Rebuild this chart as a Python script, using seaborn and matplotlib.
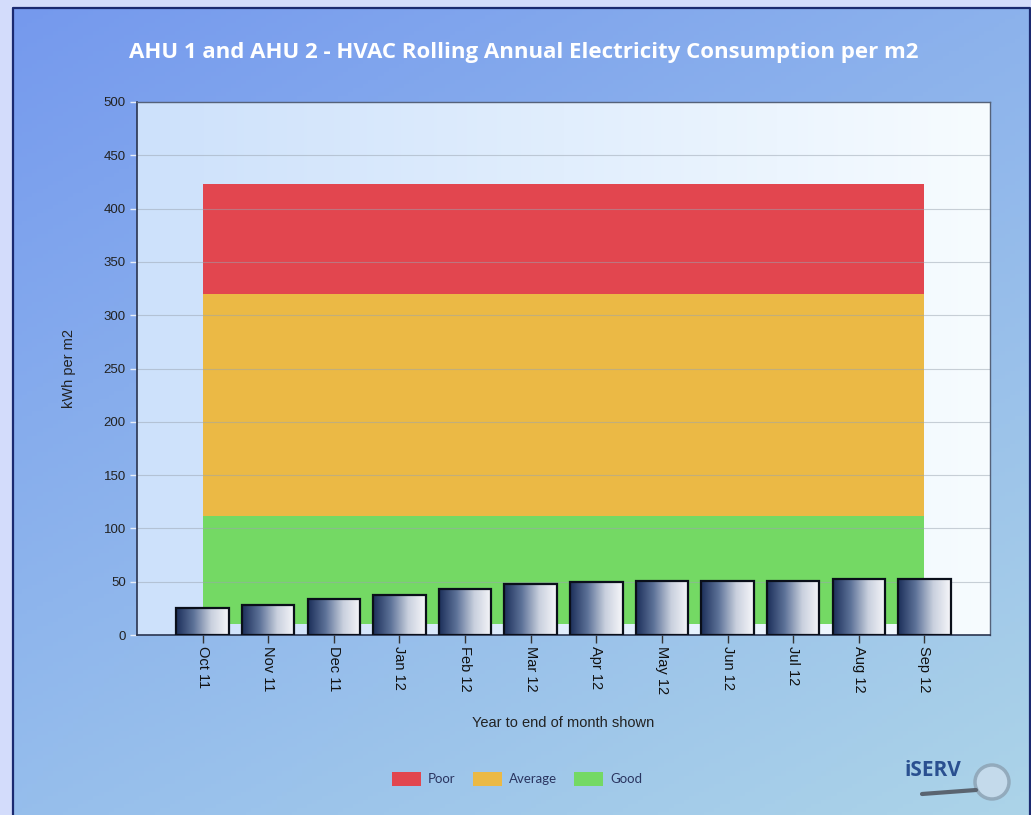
import numpy as np
import pandas as pd
import matplotlib
matplotlib.use("Agg")
import matplotlib.pyplot as plt
from matplotlib.patches import Rectangle, Circle, Patch
from matplotlib.colors import LinearSegmentedColormap
import seaborn as sns

# ---- data ----
months = ["Oct 11", "Nov 11", "Dec 11", "Jan 12", "Feb 12", "Mar 12",
          "Apr 12", "May 12", "Jun 12", "Jul 12", "Aug 12", "Sep 12"]
consumption = [25.5, 28.5, 33.5, 37.5, 43, 48, 49.5, 50.5, 50.5, 51, 52.5, 52.5]
band_floor = [10] * 12
good_top = [112] * 12
average_top = [320] * 12
poor_top = [423] * 12
band_labels = ["Poor", "Average", "Good"]
band_colors = ["#e2464f", "#ebb945", "#74d964"]
yticks = [0, 50, 100, 150, 200, 250, 300, 350, 400, 450, 500]

sns.set_theme(style="white")
plt.rcParams['font.family'] = ['Liberation Sans', 'DejaVu Sans']

W, H = 1031, 815
fig = plt.figure(figsize=(W / 100, H / 100), dpi=100, facecolor="#d3dcfb")

# panel background gradient (pixel coordinates)
bg = fig.add_axes([0, 0, 1, 1], zorder=-10)
bg.set_xlim(0, W); bg.set_ylim(H, 0)
bg.axis('off')
gx = np.linspace(0, 1, 200)[None, :]
gy = np.linspace(0, 1, 200)[:, None]
tl = np.array([117, 153, 238]) / 255
tr = np.array([140, 178, 236]) / 255
bl = np.array([150, 190, 236]) / 255
br = np.array([172, 212, 232]) / 255
img = (tl[None, None, :] * (1 - gx[..., None]) * (1 - gy[..., None]) +
       tr[None, None, :] * gx[..., None] * (1 - gy[..., None]) +
       bl[None, None, :] * (1 - gx[..., None]) * gy[..., None] +
       br[None, None, :] * gx[..., None] * gy[..., None])
bg.imshow(img, extent=[12, 1030, 816, 7], aspect='auto', origin='upper')
bg.set_xlim(0, W); bg.set_ylim(H, 0)
bg.plot([12.5, 12.5, 1029.5, 1029.5], [816, 7.5, 7.5, 816], color="#1b2a70", linewidth=1.6)

ax = fig.add_axes([137 / W, 1 - 635 / H, (990 - 137) / W, (635 - 102) / H])
x = np.arange(len(months))

# plot-area gradient
pg = np.linspace(0, 1, 256)[None, :]
pcmap = LinearSegmentedColormap.from_list("pa", ["#cde1fb", "#e1eefd", "#f7fcff"])
ax.imshow(pg, extent=[-1, 12, 0, 500], aspect='auto', cmap=pcmap, zorder=0)

# bands
ax.fill_between(x, band_floor, good_top, color=band_colors[2], zorder=1, linewidth=0)
ax.fill_between(x, good_top, average_top, color=band_colors[1], zorder=1, linewidth=0)
ax.fill_between(x, average_top, poor_top, color=band_colors[0], zorder=1, linewidth=0)

# grid
for yv in yticks[1:]:
    ax.axhline(yv, color="#9aa4b0", linewidth=0.8, alpha=0.5, zorder=2)

df = pd.DataFrame({"month": months, "value": consumption})
sns.barplot(data=df, x="month", y="value", ax=ax, width=0.8,
            color="#1f3560", edgecolor="#0a0f1a", linewidth=1.6, zorder=3)

bcmap = LinearSegmentedColormap.from_list("bar", ["#1c2f5a", "#5d7298", "#c9d0de", "#f7f7fa"])
for p in list(ax.patches):
    bx, by = p.get_x(), p.get_y()
    bw, bh = p.get_width(), p.get_height()
    im = ax.imshow(pg, extent=[bx, bx + bw, by, by + bh], aspect='auto',
                   cmap=bcmap, zorder=3.5)
    im.set_clip_path(p)
    p.set_zorder(4)
    p.set_facecolor("none")

ax.set_xlim(-1, 12)
ax.set_ylim(0, 500)
ax.set_yticks(yticks)
ax.set_yticklabels([str(v) for v in yticks], fontsize=9.5, color="#222222")
ax.set_xticks(x)
ax.set_xticklabels(months, rotation=-90, fontsize=10.5, color="#111111")
ax.tick_params(axis='x', which='major', direction='out', length=6, width=1, color="#333333", pad=2, bottom=True)
ax.tick_params(axis='y', which='major', direction='out', length=5, width=1, color="#e8eef8", left=True, pad=3)
for s in ["left", "bottom"]:
    ax.spines[s].set_color("#2a3550")
    ax.spines[s].set_linewidth(1.2)
for s in ["top", "right"]:
    ax.spines[s].set_color("#55627a")
    ax.spines[s].set_linewidth(1.0)
ax.set_xlabel("Year to end of month shown", fontsize=10.5, color="#222222", labelpad=16)
ax.set_ylabel("kWh per m2", fontsize=10.5, color="#222222", labelpad=20)

fig.text(0.508, 0.936, "AHU 1 and AHU 2 - HVAC Rolling Annual Electricity Consumption per m2",
         ha='center', va='center', fontsize=16, fontweight='bold', color='white',
         family=['Open Sans', 'DejaVu Sans'])

handles = [Patch(facecolor=c, edgecolor='none', label=l) for l, c in zip(band_labels, band_colors)]
fig.legend(handles=handles, loc='center', bbox_to_anchor=(517 / W, 1 - 779 / H), ncol=3,
           frameon=False, handlelength=2.2, handleheight=1.3,
           columnspacing=1.3, handletextpad=0.55, labelcolor="#2a3560",
           prop={'family': ['Lato', 'DejaVu Sans'], 'size': 9.5})

# logo
fig.text(933 / W, 1 - 770 / H, "iSERV", ha='center', va='center', fontsize=15,
         color="#2a5090", fontweight='bold', family=['Open Sans', 'DejaVu Sans'])
la = fig.add_axes([0, 0, 1, 1], zorder=5)
la.set_xlim(0, W); la.set_ylim(H, 0); la.axis('off')
la.add_patch(Circle((992, 782), 17, facecolor="#c8dcec", edgecolor="#8fa6b8", linewidth=2.5, alpha=0.9))
la.plot([922, 976], [794, 790], color="#5a6470", linewidth=3, solid_capstyle='round')

fig.savefig("out.png", dpi=100, facecolor=fig.get_facecolor())
